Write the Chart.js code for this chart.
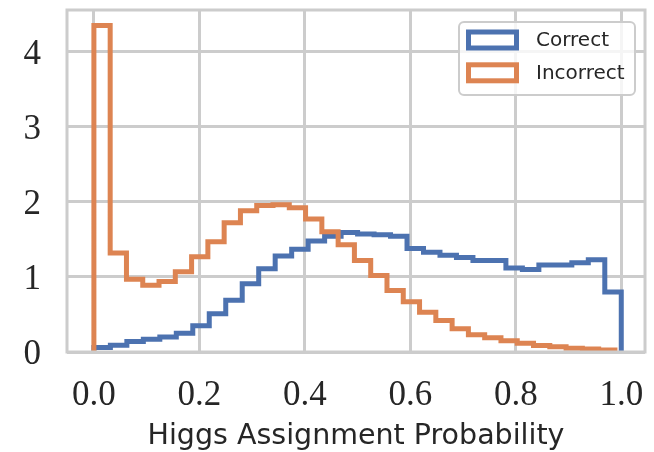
<!DOCTYPE html>
<html>
<head>
<meta charset="utf-8">
<script src="https://cdn.jsdelivr.net/npm/chart.js@4.4.0/dist/chart.umd.min.js"></script>
<style>
  html, body { margin: 0; padding: 0; background: #fff; }
  #wrap { width: 654px; height: 452px; }
</style>
</head>
<body>
<div id="wrap"><canvas id="chart" width="654" height="452"></canvas></div>
<script>
// histogram densities, 32 bins each
const correctRange = [0.0, 1.0];
const incorrectRange = [0.0, 0.988];
const correctDensity = [
  0.06, 0.09, 0.14, 0.17, 0.20, 0.25, 0.35, 0.51, 0.69, 0.91, 1.11, 1.28,
  1.37, 1.48, 1.54, 1.59, 1.57, 1.56, 1.54, 1.38, 1.33, 1.29, 1.26, 1.22,
  1.22, 1.12, 1.10, 1.16, 1.16, 1.19, 1.23, 0.80
];
const incorrectDensity = [
  4.35, 1.32, 0.97, 0.89, 0.94, 1.07, 1.27, 1.47, 1.72, 1.88, 1.95, 1.96,
  1.92, 1.77, 1.60, 1.43, 1.22, 1.02, 0.82, 0.67, 0.53, 0.42, 0.31, 0.23,
  0.19, 0.15, 0.115, 0.085, 0.07, 0.05, 0.04, 0.027
];
const seriesLabels = ['Correct', 'Incorrect'];
const seriesColors = ['#4c72b0', '#dd8452'];
const xTickValues = [0, 0.2, 0.4, 0.6, 0.8, 1.0];
const xTickLabels = ['0.0', '0.2', '0.4', '0.6', '0.8', '1.0'];
const yTickValues = [0, 1, 2, 3, 4];
const yTickLabels = ['0', '1', '2', '3', '4'];
const xTitle = 'Higgs Assignment Probability';

const TEXT = '#262626';
const GRID = '#cccccc';

// outline of a step histogram: up at the first edge, across each bin, down at the last edge
function stepPoints(range, values) {
  const width = (range[1] - range[0]) / values.length;
  const points = [{ x: range[0], y: 0 }];
  values.forEach((v, i) => points.push({ x: range[0] + i * width, y: v }));
  points.push({ x: range[1], y: 0 });
  return points;
}

function histDataset(i, data, order) {
  return {
    label: seriesLabels[i],
    data,
    borderColor: seriesColors[i],
    backgroundColor: seriesColors[i],
    borderWidth: 5,
    stepped: true,
    fill: false,
    pointRadius: 0,
    pointHoverRadius: 0,
    borderJoinStyle: 'miter',
    borderCapStyle: 'butt',
    order,
  };
}

function roundRectPath(ctx, x, y, w, h, r) {
  ctx.beginPath();
  ctx.moveTo(x + r, y);
  ctx.arcTo(x + w, y, x + w, y + h, r);
  ctx.arcTo(x + w, y + h, x, y + h, r);
  ctx.arcTo(x, y + h, x, y, r);
  ctx.arcTo(x, y, x + w, y, r);
  ctx.closePath();
}

// axes frame plus a matplotlib-style legend inside the top right corner
const frameAndLegend = {
  id: 'frameAndLegend',
  afterDatasetsDraw(chart) {
    const { ctx, chartArea: a } = chart;
    ctx.save();
    ctx.strokeStyle = GRID;
    ctx.lineWidth = 3;
    ctx.strokeRect(a.left, a.top, a.right - a.left, a.bottom - a.top);

    const boxW = 176, boxH = 73;
    const boxX = a.right - 10 - boxW;
    const boxY = a.top + 12;
    roundRectPath(ctx, boxX, boxY, boxW, boxH, 5);
    ctx.fillStyle = 'rgba(255,255,255,0.8)';
    ctx.fill();
    ctx.lineWidth = 2;
    ctx.strokeStyle = GRID;
    ctx.stroke();

    ctx.font = '20px "DejaVu Sans"';
    ctx.textBaseline = 'middle';
    ctx.textAlign = 'left';
    chart.data.datasets.forEach((ds, i) => {
      const cy = boxY + 18 + i * 32.8;
      ctx.lineWidth = 5;
      ctx.strokeStyle = ds.borderColor;
      ctx.fillStyle = '#ffffff';
      ctx.fillRect(boxX + 9.5, cy - 8, 48, 16);
      ctx.strokeRect(boxX + 9.5, cy - 8, 48, 16);
      ctx.fillStyle = TEXT;
      ctx.fillText(ds.label, boxX + 77, cy + 1);
    });
    ctx.restore();
  }
};

new Chart(document.getElementById('chart'), {
  type: 'line',
  data: {
    datasets: [
      histDataset(0, stepPoints(correctRange, correctDensity), 1),
      histDataset(1, stepPoints(incorrectRange, incorrectDensity), 0),
    ],
  },
  options: {
    responsive: false,
    animation: false,
    devicePixelRatio: 1,
    layout: { padding: { top: 10, right: 9, left: 0, bottom: 0 } },
    plugins: {
      legend: { display: false },
      tooltip: { enabled: false },
    },
    scales: {
      x: {
        type: 'linear',
        min: -0.051,
        max: 1.045,
        afterBuildTicks(scale) {
          scale.ticks = xTickValues.map(v => ({ value: v }));
        },
        afterFit(scale) {
          scale.height = 100;
          scale.paddingLeft = 0;
          scale.paddingRight = 0;
        },
        border: { display: false },
        grid: { color: GRID, lineWidth: 3, drawTicks: false },
        ticks: {
          padding: 23,
          autoSkip: false,
          maxRotation: 0,
          color: TEXT,
          font: { family: 'Liberation Serif', size: 35 },
          callback: (value, index) => xTickLabels[index],
        },
        title: {
          display: true,
          text: xTitle,
          color: TEXT,
          font: { family: 'DejaVu Sans', size: 28.5 },
          padding: { top: 0, bottom: -2 },
        },
      },
      y: {
        type: 'linear',
        min: 0,
        max: 4.555,
        afterBuildTicks(scale) {
          scale.ticks = yTickValues.map(v => ({ value: v }));
        },
        afterFit(scale) {
          scale.width = 67;
          scale.paddingTop = 0;
          scale.paddingBottom = 0;
        },
        border: { display: false },
        grid: { color: GRID, lineWidth: 3, drawTicks: false },
        ticks: {
          padding: 26,
          labelOffset: 3,
          color: TEXT,
          font: { family: 'Liberation Serif', size: 35 },
          callback: (value, index) => yTickLabels[index],
        },
      },
    },
  },
  plugins: [frameAndLegend],
});
</script>
</body>
</html>
